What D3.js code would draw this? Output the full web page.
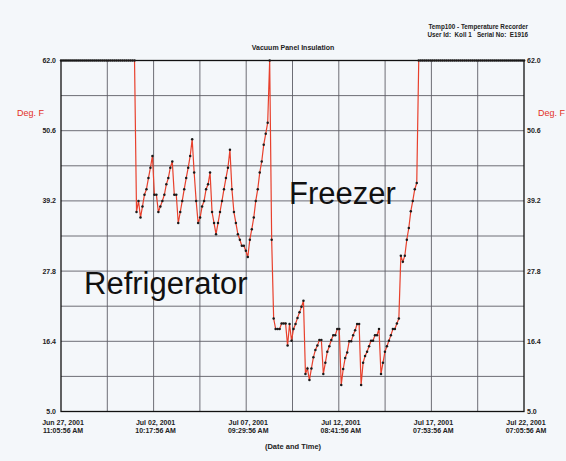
<!DOCTYPE html>
<html>
<head>
<meta charset="utf-8">
<style>
  body { margin: 0; background: #f4f7fa; }
  svg { display: block; font-family: 'Liberation Sans', Arial, sans-serif; }
</style>
</head>
<body>
<svg width="566" height="461"></svg>
<script src="https://d3js.org/d3.v7.min.js"></script>
<script>
// recorder settings
let startTime = new Date(2001, 5, 27, 11, 5, 56);
let endTime = new Date(2001, 6, 22, 7, 5, 56);
let sampleMinutes = 153.5;

// readings in Deg. F, one per sample (62.0 = top of scale)
let temps = [
    62.0, 62.0, 62.0, 62.0, 62.0, 62.0, 62.0, 62.0, 62.0, 62.0,
    62.0, 62.0, 62.0, 62.0, 62.0, 62.0, 62.0, 62.0, 62.0, 62.0,
    62.0, 62.0, 62.0, 62.0, 62.0, 62.0, 62.0, 62.0, 62.0, 62.0,
    62.0, 62.0, 62.0, 62.0, 62.0, 62.0, 62.0, 62.0,
    37.4, 39.2, 36.5, 38.3, 40.2, 41.1, 42.9, 44.6, 46.5, 40.2,
    40.2, 37.4, 38.3, 39.2, 40.2, 41.9, 42.9, 44.6, 45.6, 40.2,
    40.2, 35.6, 37.4, 39.2, 41.1, 42.9, 44.6, 46.5, 49.2, 43.8,
    39.2, 35.6, 36.5, 38.3, 39.2, 41.1, 41.9, 43.8, 37.4, 35.6,
    33.8, 35.6, 37.4, 39.2, 41.1, 42.9, 44.6, 47.5, 41.1, 37.4,
    35.6, 33.8, 32.9, 31.9, 31.9, 31.1, 30.1, 32.9, 34.6, 36.5,
    39.2, 41.1, 43.8, 45.6, 48.3, 50.1, 51.9, 62.0, 32.9, 20.1,
    18.4, 18.4, 18.4, 19.3, 19.3, 19.3, 15.7, 19.2, 16.5, 18.4,
    19.2, 20.2, 21.1, 22.0, 23.0, 11.1, 12.0, 10.1, 12.0, 13.8,
    15.0, 15.7, 16.6, 16.6, 11.1, 12.9, 14.7, 15.6, 16.6, 17.4,
    17.4, 18.4, 18.4, 9.3, 11.9, 13.7, 14.6, 16.4, 16.4, 17.4,
    18.2, 19.2, 19.2, 9.3, 12.9, 14.0, 14.7, 15.6, 16.5, 16.5,
    17.4, 17.4, 18.4, 11.1, 12.9, 14.7, 15.6, 16.5, 17.4, 18.4,
    18.4, 19.3, 20.1, 30.3, 29.3, 30.3, 32.9, 34.8, 37.5, 39.2,
    41.1, 42.1,
    62.0, 62.0, 62.0, 62.0, 62.0, 62.0, 62.0, 62.0, 62.0, 62.0,
    62.0, 62.0, 62.0, 62.0, 62.0, 62.0, 62.0, 62.0, 62.0, 62.0,
    62.0, 62.0, 62.0, 62.0, 62.0, 62.0, 62.0, 62.0, 62.0, 62.0,
    62.0, 62.0, 62.0, 62.0, 62.0, 62.0, 62.0, 62.0, 62.0, 62.0,
    62.0, 62.0, 62.0, 62.0, 62.0, 62.0, 62.0, 62.0, 62.0, 62.0,
    62.0, 62.0, 62.0, 62.0
];

let yTicks = [62.0, 50.6, 39.2, 27.8, 16.4, 5.0];
let xTicks = [
    new Date(2001, 5, 27, 11, 5, 56),
    new Date(2001, 6, 2, 10, 17, 56),
    new Date(2001, 6, 7, 9, 29, 56),
    new Date(2001, 6, 12, 8, 41, 56),
    new Date(2001, 6, 17, 7, 53, 56),
    new Date(2001, 6, 22, 7, 5, 56)
];

let svg = d3.select('svg');
let plotLeft = 61, plotRight = 524, plotTop = 60.5, plotBottom = 411.5;

let x = d3.scaleTime().domain([startTime, endTime]).range([plotLeft, plotRight]);
let y = d3.scaleLinear().domain([5, 62]).range([plotBottom, plotTop]);

let points = temps.map((t, i) => ({time: new Date(+startTime + i * sampleMinutes * 60000), temp: t}));

let dateFmt = d3.timeFormat('%b %d, %Y');
let timeFmt = d3.timeFormat('%I:%M:%S %p');

// header text
svg.append('text').attr('x', 528).attr('y', 29).attr('text-anchor', 'end')
    .attr('font-size', 6.3).attr('font-weight', 'bold').attr('fill', '#222')
    .text('Temp100 - Temperature Recorder');
svg.append('text').attr('x', 528).attr('y', 37).attr('text-anchor', 'end')
    .attr('font-size', 6.3).attr('font-weight', 'bold').attr('fill', '#222')
    .text('User Id:\u00a0 Koll 1 \u00a0 Serial No:\u00a0 E1916');
svg.append('text').attr('x', 293).attr('y', 50).attr('text-anchor', 'middle')
    .attr('font-size', 7).attr('font-weight', 'bold').attr('fill', '#222')
    .text('Vacuum Panel Insulation');

// grid
let grid = svg.append('g').attr('stroke', '#5e5e66').attr('stroke-width', 0.9);
d3.range(1, 10).forEach(k => {
    let t = new Date(+startTime + k * (endTime - startTime) / 10);
    grid.append('line').attr('x1', x(t)).attr('x2', x(t)).attr('y1', plotTop).attr('y2', plotBottom);
    let v = 5 + k * 5.7;
    grid.append('line').attr('x1', plotLeft).attr('x2', plotRight).attr('y1', y(v)).attr('y2', y(v));
});

// frame
svg.append('rect')
    .attr('x', plotLeft).attr('y', plotTop)
    .attr('width', plotRight - plotLeft).attr('height', plotBottom - plotTop)
    .attr('fill', 'none').attr('stroke', '#111').attr('stroke-width', 1.3);

// y tick labels, both sides
let yl = svg.append('g').attr('font-size', 7).attr('font-weight', 'bold').attr('fill', '#222');
yl.selectAll('.yl').data(yTicks).enter().append('text')
    .attr('x', plotLeft - 5).attr('y', d => y(d)).attr('dy', '0.35em')
    .attr('text-anchor', 'end').text(d => d.toFixed(1));
yl.selectAll('.yr').data(yTicks).enter().append('text')
    .attr('x', plotRight + 3).attr('y', d => y(d)).attr('dy', '0.35em')
    .attr('text-anchor', 'start').text(d => d.toFixed(1));

svg.append('text').attr('x', 17).attr('y', 116).attr('font-size', 9)
    .attr('fill', '#e3301f').text('Deg. F');
svg.append('text').attr('x', 538).attr('y', 116).attr('font-size', 9)
    .attr('fill', '#e3301f').text('Deg. F');

// x tick labels
let xl = svg.append('g').attr('font-size', 7).attr('font-weight', 'bold').attr('fill', '#222')
    .attr('text-anchor', 'middle');
xl.selectAll('.d').data(xTicks).enter().append('text')
    .attr('x', d => x(d) + 2).attr('y', 425).text(d => dateFmt(d));
xl.selectAll('.t').data(xTicks).enter().append('text')
    .attr('x', d => x(d) + 2).attr('y', 433).text(d => timeFmt(d));
svg.append('text').attr('x', 293).attr('y', 449).attr('text-anchor', 'middle')
    .attr('font-size', 7.5).attr('font-weight', 'bold').attr('fill', '#222')
    .text('(Date and Time)');

// data
let line = d3.line().x(d => x(d.time)).y(d => y(d.temp));
svg.append('path').datum(points)
    .attr('fill', 'none').attr('stroke', '#e8402c').attr('stroke-width', 1.2)
    .attr('d', line);
svg.append('g').selectAll('circle').data(points).enter().append('circle')
    .attr('cx', d => x(d.time)).attr('cy', d => y(d.temp))
    .attr('r', 1.25).attr('fill', '#1a1a1a');

// annotations
svg.append('text').attr('x', 289).attr('y', 204).attr('font-size', 31)
    .attr('fill', '#111').text('Freezer');
svg.append('text').attr('x', 84).attr('y', 294).attr('font-size', 31)
    .attr('fill', '#111').text('Refrigerator');
</script>
</body>
</html>
